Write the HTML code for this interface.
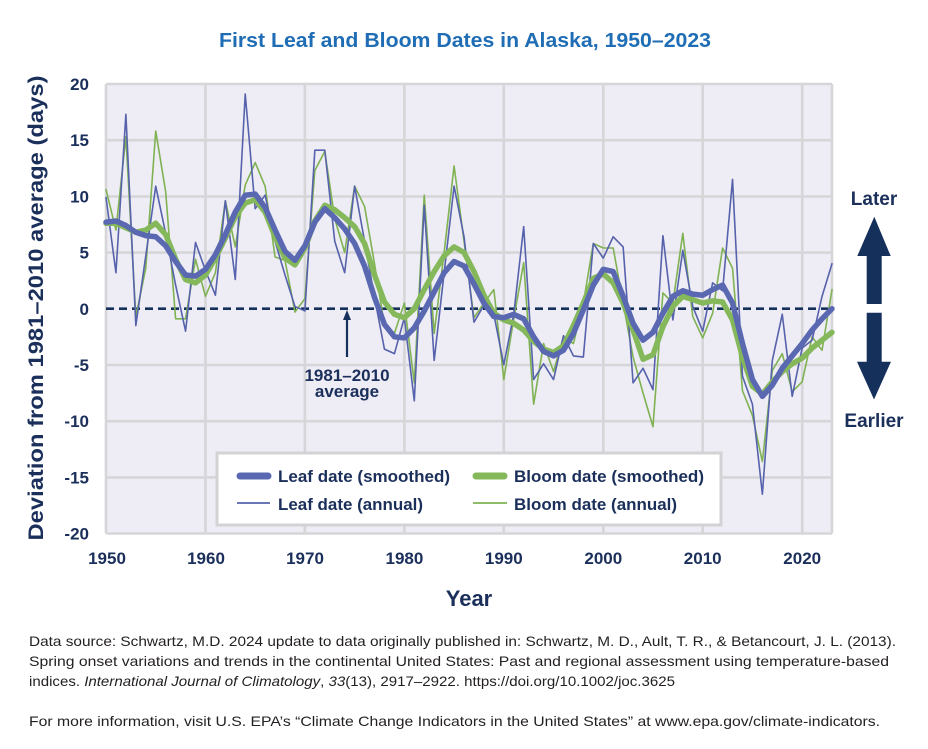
<!DOCTYPE html>
<html>
<head>
<meta charset="utf-8">
<style>
  html, body { margin:0; padding:0; background:#fff; }
  svg { display:block; }
  text { font-family: "Liberation Sans", Arial, sans-serif; }
</style>
</head>
<body>
<svg width="928" height="749" viewBox="0 0 928 749" xmlns="http://www.w3.org/2000/svg">
  <rect x="0" y="0" width="928" height="749" fill="#ffffff"/>

  <!-- Title -->
  <text x="465" y="47" text-anchor="middle" font-size="20" font-weight="bold" fill="#1f6db5" textLength="492" lengthAdjust="spacingAndGlyphs">First Leaf and Bloom Dates in Alaska, 1950–2023</text>

  <!-- Plot background -->
  <rect x="106" y="84" width="726" height="449.5" fill="#eeecf5"/>

  <!-- Grid -->
  <g stroke="#d6d5d8" stroke-width="2.6" fill="none">
    <line x1="106" y1="84" x2="832" y2="84"/>
    <line x1="106" y1="140.2" x2="832" y2="140.2"/>
    <line x1="106" y1="196.5" x2="832" y2="196.5"/>
    <line x1="106" y1="252.6" x2="832" y2="252.6"/>
    <line x1="106" y1="365" x2="832" y2="365"/>
    <line x1="106" y1="421.2" x2="832" y2="421.2"/>
    <line x1="106" y1="477.4" x2="832" y2="477.4"/>
    <line x1="106" y1="533.5" x2="832" y2="533.5"/>
    <line x1="106" y1="84" x2="106" y2="533.5"/>
    <line x1="205.5" y1="84" x2="205.5" y2="533.5"/>
    <line x1="304.9" y1="84" x2="304.9" y2="533.5"/>
    <line x1="404.4" y1="84" x2="404.4" y2="533.5"/>
    <line x1="503.8" y1="84" x2="503.8" y2="533.5"/>
    <line x1="603.3" y1="84" x2="603.3" y2="533.5"/>
    <line x1="702.7" y1="84" x2="702.7" y2="533.5"/>
    <line x1="802.2" y1="84" x2="802.2" y2="533.5"/>
    <line x1="832" y1="84" x2="832" y2="533.5"/>
  </g>

  <!-- Zero dashed line -->
  <line x1="106" y1="308.7" x2="832" y2="308.7" stroke="#15305a" stroke-width="2.6" stroke-dasharray="8,5"/>

  <!-- Data series (data coords: x = years since 1950, y = days) -->
  <g transform="translate(106,308.7) scale(9.945,-11.24)" fill="none" stroke-linejoin="round" stroke-linecap="round">
    <!-- Bloom annual -->
    <polyline vector-effect="non-scaling-stroke" stroke="#7fb252" stroke-width="1.6"
      points="0,10.6 1,7.0 2,15.3 3,-0.7 4,3.6 5,15.8 6,10.4 7,-0.9 8,-0.9 9,4.4 10,1.1 11,3.2 12,9.6 13,5.5 14,11.0 15,13.0 16,10.9 17,4.6 18,4.3 19,-0.3 20,0.9 21,12.3 22,14.0 23,8.0 24,5.0 25,10.9 26,9.1 27,4.0 28,-1.5 29,-2.2 30,0.5 31,-6.6 32,10.1 33,-2.2 34,5.0 35,12.7 36,6.0 37,-0.8 38,0.5 39,1.7 40,-6.3 41,-0.9 42,4.1 43,-8.5 44,-3.1 45,-5.6 46,-2.5 47,-3.1 48,0.5 49,5.8 50,5.4 51,5.4 52,0.5 53,-4.3 54,-7.5 55,-10.5 56,1.4 57,0.5 58,6.7 59,-0.7 60,-2.6 61,-0.4 62,5.4 63,3.6 64,-7.3 65,-9.5 66,-13.6 67,-5.5 68,-4.0 69,-7.4 70,-6.5 71,-2.5 72,-3.7 73,1.7"/>
    <!-- Leaf annual -->
    <polyline vector-effect="non-scaling-stroke" stroke="#5662ab" stroke-width="1.6"
      points="0,9.9 1,3.2 2,17.3 3,-1.5 4,4.7 5,10.9 6,6.7 7,2.1 8,-2.0 9,5.9 10,3.4 11,1.2 12,9.6 13,2.6 14,19.1 15,8.9 16,10.1 17,6.0 18,3.0 19,0.2 20,-0.2 21,14.1 22,14.1 23,6.0 24,3.2 25,10.9 26,6.0 27,1.0 28,-3.6 29,-4.0 30,-0.8 31,-8.2 32,9.2 33,-4.6 34,3.2 35,10.9 36,6.4 37,-1.2 38,0.3 39,-0.5 40,-5.0 41,-0.5 42,7.3 43,-6.3 44,-4.9 45,-6.3 46,-2.4 47,-4.2 48,-4.3 49,5.8 50,4.5 51,6.4 52,5.5 53,-6.6 54,-5.3 55,-7.2 56,6.5 57,-1.0 58,5.2 59,0.2 60,-2.0 61,2.3 62,1.6 63,11.5 64,-6.0 65,-8.5 66,-16.5 67,-4.6 68,-0.5 69,-7.8 70,-3.5 71,-2.8 72,1.1 73,4.0"/>
    <!-- Bloom smoothed -->
    <polyline vector-effect="non-scaling-stroke" stroke="#84b85a" stroke-width="5.5"
      points="0,7.6 1,7.6 2,7.2 3,6.8 4,7.0 5,7.6 6,6.6 7,4.4 8,2.6 9,2.3 10,3.0 11,4.5 12,6.3 13,8.2 14,9.4 15,9.7 16,8.6 17,6.4 18,4.5 19,3.9 20,5.4 21,7.8 22,9.2 23,8.8 24,8.1 25,7.3 26,5.8 27,3.0 28,0.6 29,-0.5 30,-0.8 31,0.0 32,1.7 33,3.3 34,4.7 35,5.5 36,5.0 37,3.3 38,1.2 39,-0.4 40,-1.0 41,-1.3 42,-1.9 43,-2.9 44,-3.6 45,-3.9 46,-3.3 47,-1.5 48,0.5 49,2.7 50,3.1 51,2.3 52,0.5 53,-1.9 54,-4.5 55,-4.1 56,-1.6 57,0.2 58,1.1 59,0.8 60,0.5 61,0.7 62,0.6 63,-1.0 64,-4.3 65,-6.9 66,-7.6 67,-6.5 68,-5.6 69,-4.9 70,-4.4 71,-3.5 72,-2.8 73,-2.1"/>
    <!-- Leaf smoothed -->
    <polyline vector-effect="non-scaling-stroke" stroke="#5a68b1" stroke-width="5.5"
      points="0,7.7 1,7.8 2,7.4 3,6.8 4,6.5 5,6.4 6,5.6 7,4.2 8,3.0 9,2.9 10,3.5 11,4.8 12,6.6 13,8.6 14,10.1 15,10.2 16,9.0 17,7.0 18,5.1 19,4.3 20,5.6 21,7.7 22,8.9 23,8.1 24,7.1 25,5.8 26,3.8 27,1.0 28,-1.4 29,-2.5 30,-2.6 31,-1.7 32,-0.2 33,1.5 34,3.2 35,4.2 36,3.8 37,2.2 38,0.5 39,-0.7 40,-0.8 41,-0.5 42,-0.9 43,-2.5 44,-3.8 45,-4.2 46,-3.7 47,-2.2 48,-0.1 49,2.1 50,3.5 51,3.3 52,1.1 53,-1.3 54,-2.8 55,-2.1 56,-0.4 57,1.1 58,1.6 59,1.3 60,1.2 61,1.7 62,2.1 63,0.5 64,-3.1 65,-6.3 66,-7.8 67,-6.8 68,-5.3 69,-4.2 70,-3.1 71,-1.9 72,-0.9 73,0.0"/>
  </g>

  <!-- Y tick labels -->
  <g font-size="17" font-weight="bold" fill="#1b2f5b" text-anchor="end">
    <text x="89" y="90">20</text>
    <text x="89" y="146.2">15</text>
    <text x="89" y="202.5">10</text>
    <text x="89" y="258.6">5</text>
    <text x="89" y="314.8">0</text>
    <text x="89" y="371">-5</text>
    <text x="89" y="427.2">-10</text>
    <text x="89" y="483.4">-15</text>
    <text x="89" y="539.5">-20</text>
  </g>

  <!-- X tick labels -->
  <g font-size="17" font-weight="bold" fill="#1b2f5b" text-anchor="middle">
    <text x="107" y="564">1950</text>
    <text x="206" y="564">1960</text>
    <text x="305" y="564">1970</text>
    <text x="404.4" y="564">1980</text>
    <text x="503.8" y="564">1990</text>
    <text x="603.3" y="564">2000</text>
    <text x="702.7" y="564">2010</text>
    <text x="802.2" y="564">2020</text>
  </g>

  <!-- Axis titles -->
  <text x="469" y="606" text-anchor="middle" font-size="22" font-weight="bold" fill="#1b2f5b">Year</text>
  <text transform="translate(43,308) rotate(-90)" x="0" y="0" text-anchor="middle" font-size="21" font-weight="bold" fill="#1b2f5b" textLength="465" lengthAdjust="spacingAndGlyphs">Deviation from 1981–2010 average (days)</text>

  <!-- 1981-2010 average annotation -->
  <line x1="347" y1="318" x2="347" y2="357" stroke="#15305a" stroke-width="2.2"/>
  <polygon points="347,310 343,320 351,320" fill="#15305a"/>
  <text x="347" y="381" text-anchor="middle" font-size="17" font-weight="bold" fill="#1b2f5b">1981–2010</text>
  <text x="347" y="397" text-anchor="middle" font-size="17" font-weight="bold" fill="#1b2f5b">average</text>

  <!-- Legend -->
  <rect x="217" y="453" width="504" height="72" fill="#ffffff" stroke="#d3d3d5" stroke-width="3"/>
  <line x1="240" y1="476" x2="268" y2="476" stroke="#5a68b1" stroke-width="7" stroke-linecap="round"/>
  <line x1="237" y1="503" x2="270" y2="503" stroke="#5662ab" stroke-width="1.8"/>
  <line x1="476" y1="476" x2="504" y2="476" stroke="#84b85a" stroke-width="7" stroke-linecap="round"/>
  <line x1="473" y1="503" x2="507" y2="503" stroke="#7fb252" stroke-width="1.8"/>
  <g font-size="17" font-weight="bold" fill="#1b2f5b">
    <text x="278" y="482" textLength="172" lengthAdjust="spacingAndGlyphs">Leaf date (smoothed)</text>
    <text x="278" y="510" textLength="145" lengthAdjust="spacingAndGlyphs">Leaf date (annual)</text>
    <text x="514" y="482" textLength="190" lengthAdjust="spacingAndGlyphs">Bloom date (smoothed)</text>
    <text x="514" y="510" textLength="163" lengthAdjust="spacingAndGlyphs">Bloom date (annual)</text>
  </g>

  <!-- Right side arrows -->
  <text x="874" y="205" text-anchor="middle" font-size="19" font-weight="bold" fill="#1b2f5b">Later</text>
  <polygon points="874.3,216.7 890.7,256 881.7,256 881.7,304 866.7,304 866.7,256 857.3,256" fill="#15305a"/>
  <polygon points="866.7,312.7 881.7,312.7 881.7,361.7 891,361.7 874,399.5 857,361.7 866.7,361.7" fill="#15305a"/>
  <text x="874" y="427" text-anchor="middle" font-size="19" font-weight="bold" fill="#1b2f5b">Earlier</text>

  <!-- Footer -->
  <g font-size="14" fill="#231f20">
    <text x="29" y="646" textLength="867" lengthAdjust="spacingAndGlyphs">Data source: Schwartz, M.D. 2024 update to data originally published in: Schwartz, M. D., Ault, T. R., &amp; Betancourt, J. L. (2013).</text>
    <text x="29" y="666" textLength="860" lengthAdjust="spacingAndGlyphs">Spring onset variations and trends in the continental United States: Past and regional assessment using temperature-based</text>
    <text x="29" y="686" textLength="646" lengthAdjust="spacingAndGlyphs">indices. <tspan font-style="italic">International Journal of Climatology</tspan>, <tspan font-style="italic">33</tspan>(13), 2917–2922. https://doi.org/10.1002/joc.3625</text>
    <text x="29" y="726" textLength="851" lengthAdjust="spacingAndGlyphs">For more information, visit U.S. EPA’s “Climate Change Indicators in the United States” at www.epa.gov/climate-indicators.</text>
  </g>
</svg>
</body>
</html>
